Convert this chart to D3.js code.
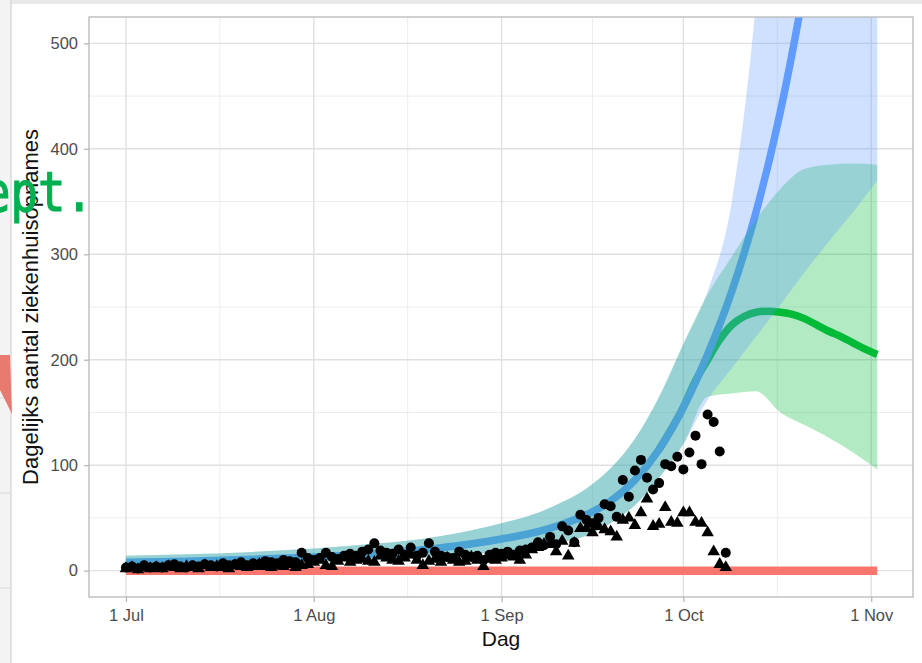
<!DOCTYPE html>
<html>
<head>
<meta charset="utf-8">
<script src="https://cdn.jsdelivr.net/npm/d3@7"></script>
<style>
  html, body { margin: 0; padding: 0; background: #ffffff; }
  svg { display: block; }
</style>
</head>
<body>
<svg id="chart" width="922" height="663"></svg>
<script>
// ---------------- DATA ----------------
const startDate = "2020-07-01";
// daily observed admissions (circles), one value per day from 1 Jul
const circleValues = [
  3,4,2,5,3,4,3,5,6,4,
  3,5,4,6,5,4,7,5,6,8,
  5,7,6,9,8,7,10,9,8,17,
  12,10,12,17,13,11,14,16,14,18,
  20,26,19,17,16,20,15,22,14,17,
  26,18,14,13,12,18,15,13,14,10,
  15,17,16,18,15,19,20,22,27,24,
  32,25,42,38,27,53,48,45,50,63,
  61,51,86,70,95,105,88,77,83,101,
  99,108,96,112,128,101,148,141,113,17
];
// daily reported admissions (triangles), one value per day from 1 Jul
const triangleValues = [
  2,3,1,3,2,3,2,4,3,2,
  4,3,2,5,3,4,3,2,5,4,
  3,4,6,4,3,5,4,6,3,5,
  6,8,10,5,4,9,12,8,10,11,
  9,8,14,12,10,9,12,15,10,5,
  9,11,8,12,10,8,9,13,10,4,
  11,10,12,14,13,10,15,20,22,25,
  25,18,28,14,26,40,40,36,42,39,
  37,32,48,50,43,55,68,42,44,60,
  46,45,55,55,46,45,36,18,6,3
];
// model curves: days since 1 Jul
const modelDays = [0,10,20,31,41,51,62,68,72,76,80,84,88,92,96,100,104,108,112,116,120,124];
const blueMean  = [8,9,10.5,13,16,21,30,37,44,53,66,86,115,155,205,265,340,435,555,700,880,1100];
const blueLow   = [5,5.5,6.5,8,10,13,18,22,27,33,45,62,88,120,162,192,222,252,283,312,340,370];
const blueHigh  = [14,15.5,17.5,21,25.5,32,45,55,65,78,97,125,165,215,265,350,540,850,1150,1500,2000,2600];
const greenLow  = [5,5.5,6.5,8,10,13,18,22,27,33,45,62,88,120,165,168,170,150,138,126,112,96];
const greenHigh = [14,15.5,17.5,21,25.5,32,45,55,65,78,97,125,165,215,262,298,333,362,381,385,386,385];
const greenDays = [88,92,94,96,98,100,102,104,106,108,110,112,114,116,118,120,122,124];
const greenMean = [115,155,180,200,219,233,241,245,246,245,243,239,233,227,222,216,210,205];
const baselineDays = [0,124];
const baselineValues = [0,0];

const yTicks = [0,100,200,300,400,500];
const xTickDates = ["2020-07-01","2020-08-01","2020-09-01","2020-10-01","2020-11-01"];
const yTitle = "Dagelijks aantal ziekenhuisopnames";
const xTitle = "Dag";

// ---------------- LAYOUT ----------------
const svg = d3.select("#chart");
const W = 922, H = 663;
const panel = {left: 89, right: 913, top: 17, bottom: 597};
const parse = d3.timeParse("%Y-%m-%d");
const t0 = parse(startDate);
const dayToDate = d => new Date(t0.getTime() + d * 86400000);

const x = d3.scaleTime()
  .domain([dayToDate(-6.1), dayToDate(129.9)])
  .range([panel.left, panel.right]);
const y = d3.scaleLinear().domain([-25, 525]).range([panel.bottom, panel.top]);

// ---------- background decorations (screenshot surroundings) ----------
svg.append("rect").attr("x",0).attr("y",0).attr("width",W).attr("height",H).attr("fill","#ffffff");
svg.append("rect").attr("x",0).attr("y",0).attr("width",W).attr("height",4).attr("fill","#e8e8e8");
svg.append("rect").attr("x",0).attr("y",0).attr("width",11).attr("height",H).attr("fill","#f3f3f3");
svg.append("line").attr("x1",11).attr("x2",11).attr("y1",0).attr("y2",H).attr("stroke","#dadada").attr("stroke-width",1.5);
[398,493,588].forEach(gy => svg.append("line").attr("x1",0).attr("x2",10).attr("y1",gy).attr("y2",gy).attr("stroke","#d8d8d8"));
svg.append("path").attr("d","M0,355 L10,355 L12,414 L0,390 Z").attr("fill","#e87a70");

// ---------------- PANEL ----------------
const defs = svg.append("defs");
defs.append("clipPath").attr("id","clip").append("rect")
  .attr("x",panel.left).attr("y",panel.top)
  .attr("width",panel.right-panel.left).attr("height",panel.bottom-panel.top);

const grid = svg.append("g");
// minor grid
d3.range(50, 500, 100).forEach(v => {
  grid.append("line").attr("x1",panel.left).attr("x2",panel.right)
    .attr("y1",y(v)).attr("y2",y(v)).attr("stroke","#ededed").attr("stroke-width",1);
});
const monthDates = xTickDates.map(parse);
for (let i = 0; i < monthDates.length - 1; i++) {
  const mid = new Date((monthDates[i].getTime() + monthDates[i+1].getTime())/2);
  grid.append("line").attr("x1",x(mid)).attr("x2",x(mid))
    .attr("y1",panel.top).attr("y2",panel.bottom).attr("stroke","#ededed").attr("stroke-width",1);
}
// major grid
yTicks.forEach(v => {
  grid.append("line").attr("x1",panel.left).attr("x2",panel.right)
    .attr("y1",y(v)).attr("y2",y(v)).attr("stroke","#e0e0e0").attr("stroke-width",1.4);
});
monthDates.forEach(dt => {
  grid.append("line").attr("x1",x(dt)).attr("x2",x(dt))
    .attr("y1",panel.top).attr("y2",panel.bottom).attr("stroke","#e0e0e0").attr("stroke-width",1.4);
});

const plot = svg.append("g").attr("clip-path","url(#clip)");

const lineGen = d3.line().x(d => x(dayToDate(d[0]))).y(d => y(d[1])).curve(d3.curveMonotoneX);
const areaGen = d3.area().x(d => x(dayToDate(d[0]))).y0(d => y(d[1])).y1(d => y(d[2])).curve(d3.curveMonotoneX);

// lines (under the ribbons)
plot.append("path").datum(baselineDays.map((d,i)=>[d, baselineValues[i]]))
  .attr("d", lineGen).attr("fill","none").attr("stroke","#F8766D").attr("stroke-width",8.5);
plot.append("path").datum(greenDays.map((d,i)=>[d, greenMean[i]]))
  .attr("d", lineGen).attr("fill","none").attr("stroke","#00BA38").attr("stroke-width",7.5).attr("stroke-linecap","butt");
plot.append("path").datum(modelDays.map((d,i)=>[d, blueMean[i]]))
  .attr("d", lineGen).attr("fill","none").attr("stroke","#619CFF").attr("stroke-width",7.5);

// ribbons
plot.append("path").datum(modelDays.map((d,i)=>[d, greenLow[i], greenHigh[i]]))
  .attr("d", areaGen).attr("fill","#00BA38").attr("fill-opacity",0.3);
plot.append("path").datum(modelDays.map((d,i)=>[d, blueLow[i], blueHigh[i]]))
  .attr("d", areaGen).attr("fill","#619CFF").attr("fill-opacity",0.3);

// points
const pts = svg.append("g");
triangleValues.forEach((v,i) => {
  pts.append("path")
    .attr("d", d3.symbol().type(d3.symbolTriangle).size(68)())
    .attr("transform", `translate(${x(dayToDate(i))},${y(v)})`)
    .attr("fill","#000");
});
circleValues.forEach((v,i) => {
  pts.append("circle").attr("cx", x(dayToDate(i))).attr("cy", y(v)).attr("r", 5).attr("fill","#000");
});

// panel border
svg.append("rect").attr("x",panel.left).attr("y",panel.top)
  .attr("width",panel.right-panel.left).attr("height",panel.bottom-panel.top)
  .attr("fill","none").attr("stroke","#b8b8b8").attr("stroke-width",1.3);

// axes
const fmt = d3.timeFormat("%-d %b");
const xAxis = svg.append("g").attr("transform",`translate(0,${panel.bottom})`)
  .call(d3.axisBottom(x).tickValues(monthDates).tickFormat(fmt).tickSize(5).tickPadding(7));
const yAxis = svg.append("g").attr("transform",`translate(${panel.left},0)`)
  .call(d3.axisLeft(y).tickValues(yTicks).tickSize(5).tickPadding(6));
[xAxis, yAxis].forEach(a => {
  a.select(".domain").remove();
  a.selectAll(".tick line").attr("stroke","#b8b8b8").attr("stroke-width",1.3);
  a.selectAll(".tick text").attr("fill","#4d4d4d").style("font-family","'Liberation Sans', Arial, sans-serif").style("font-size","16.5px");
});

svg.append("text").attr("x", (panel.left+panel.right)/2).attr("y", 646)
  .attr("text-anchor","middle").style("font-family","'Liberation Sans', Arial, sans-serif")
  .style("font-size","21px").attr("fill","#111").text(xTitle);
svg.append("text").attr("transform",`translate(38,${(panel.top+panel.bottom)/2}) rotate(-90)`)
  .attr("text-anchor","middle").style("font-family","'Liberation Sans', Arial, sans-serif")
  .style("font-size","22px").attr("fill","#111").text(yTitle);

// overlay text from the surrounding screenshot (partly cut at the left edge)
svg.append("text").attr("x", -17).attr("y", 211)
  .attr("textLength", 110).attr("lengthAdjust","spacingAndGlyphs")
  .style("font-family","'DejaVu Sans Mono', monospace").style("font-size","56px")
  .attr("fill","#00b050").attr("stroke","#00b050").attr("stroke-width",1.2).text("ept.");
</script>
</body>
</html>
